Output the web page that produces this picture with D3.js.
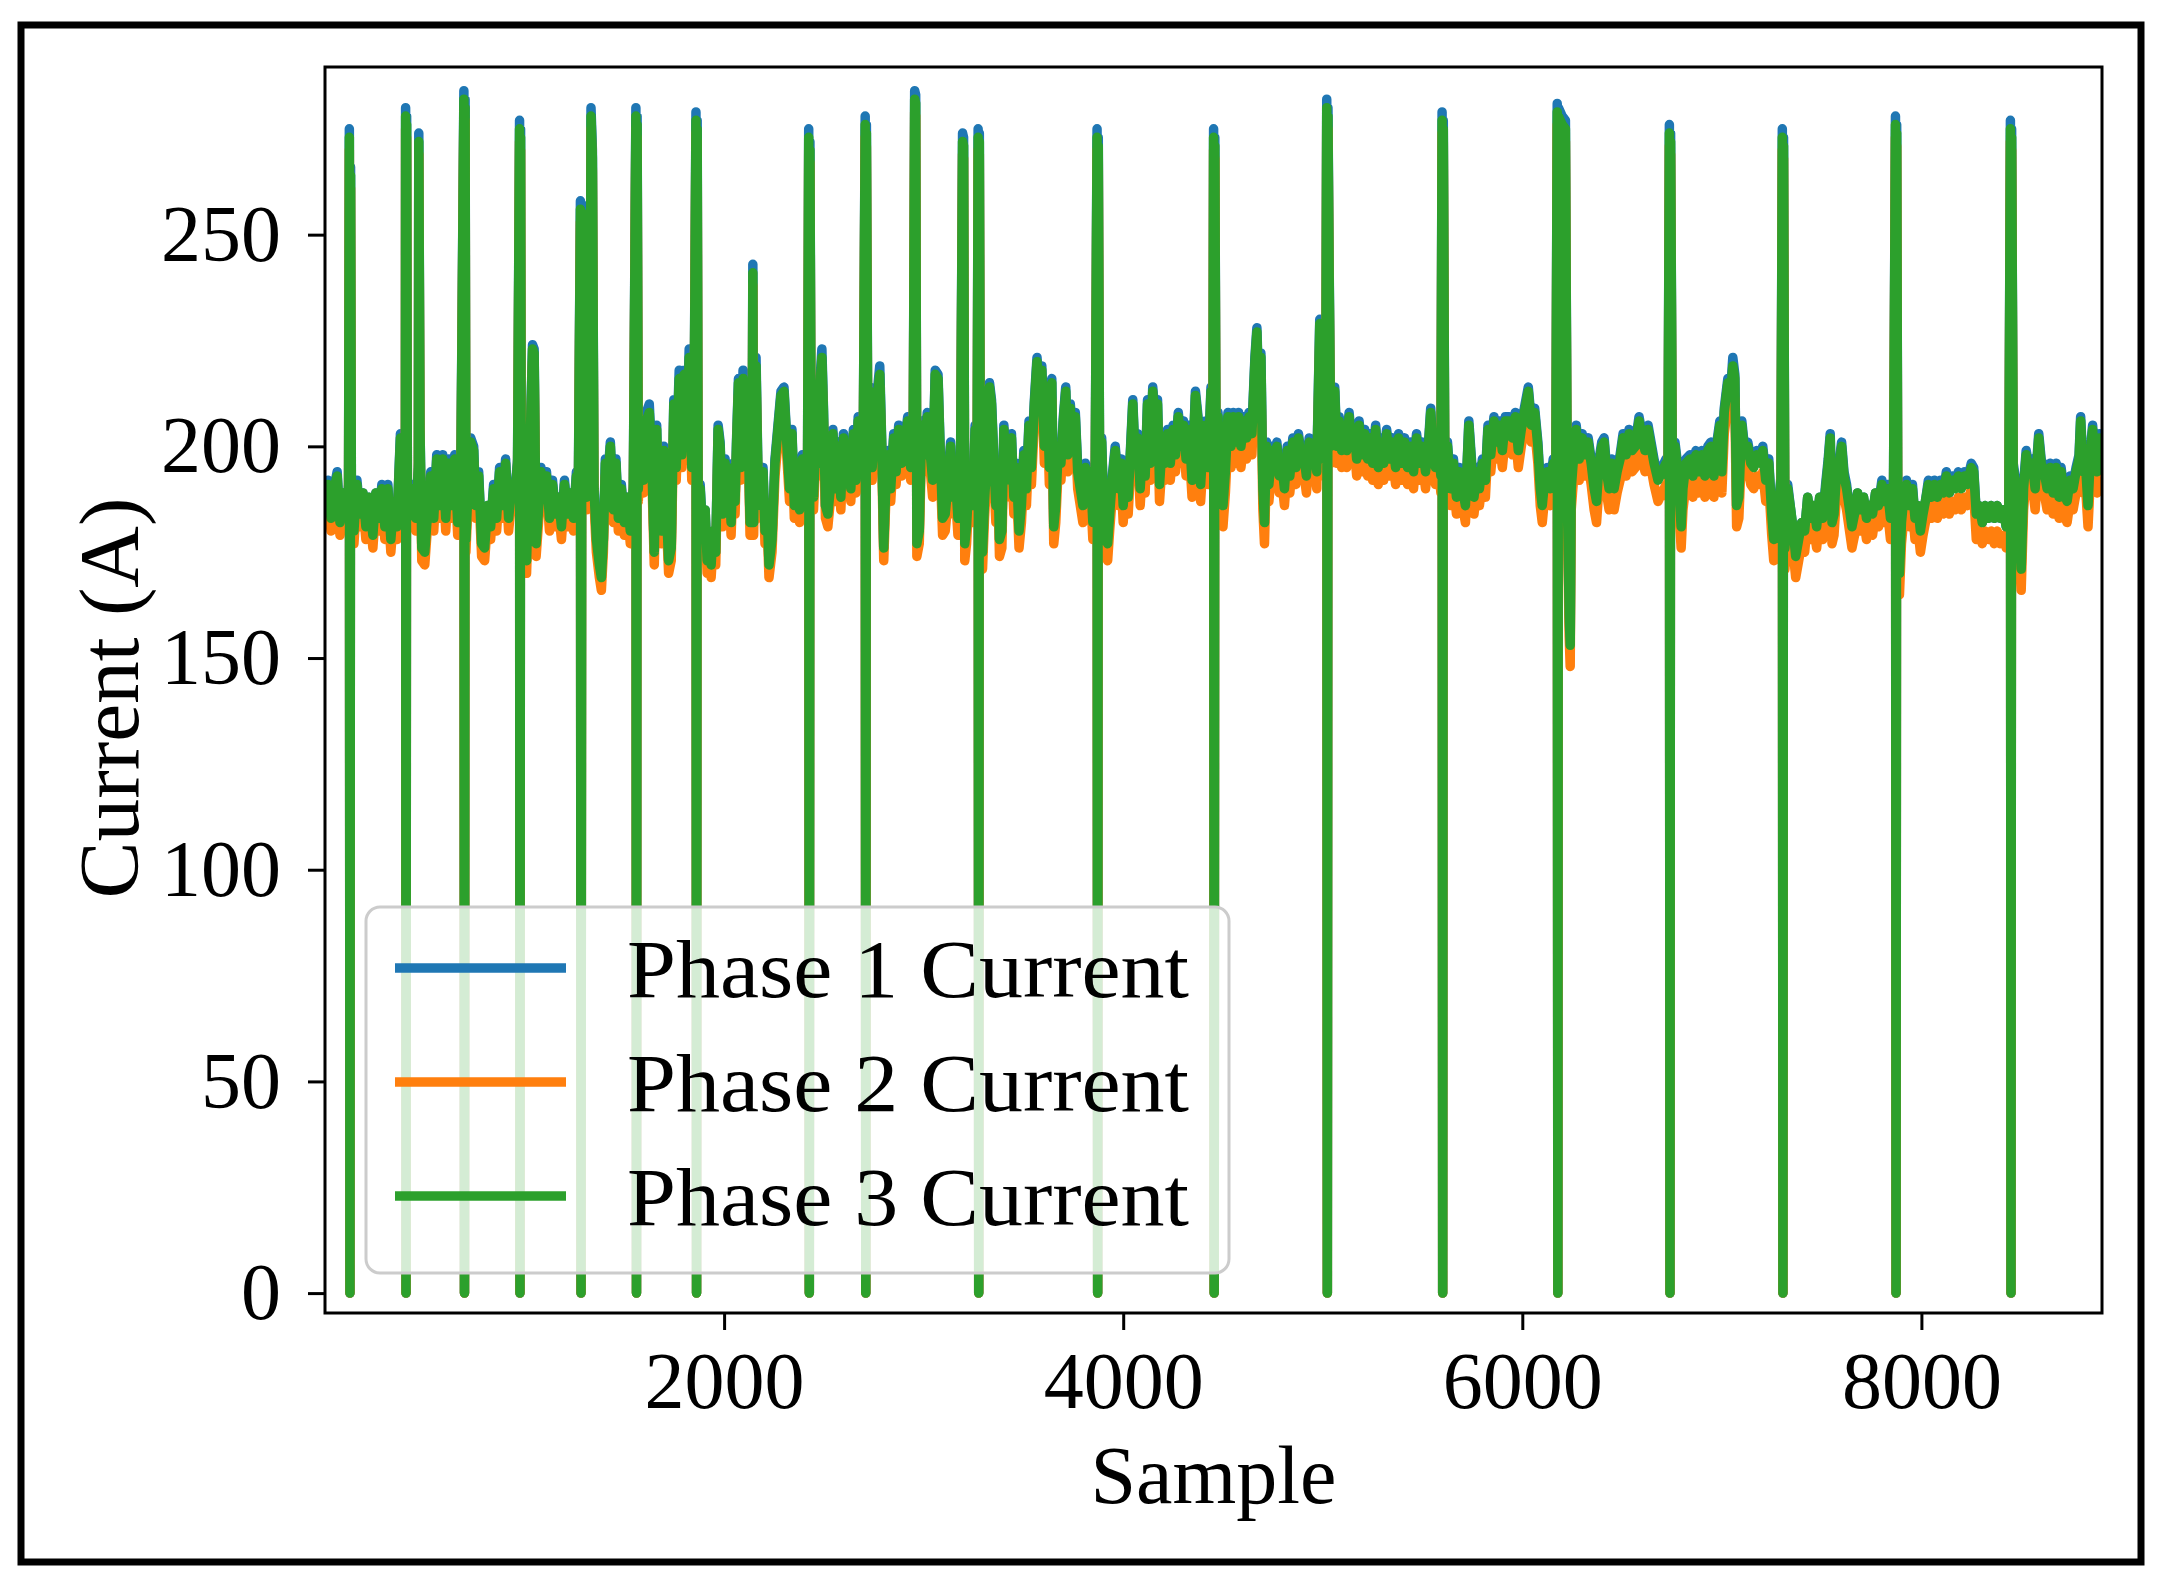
<!DOCTYPE html>
<html>
<head>
<meta charset="utf-8">
<script src="https://cdn.jsdelivr.net/npm/d3@7"></script>
<style>
  body { margin: 0; background: #fff; }
  text { font-family: "Liberation Serif", "Times New Roman", serif; fill: #000; }
</style>
</head>
<body>
<div id="chart"></div>
<script>

// Sample index of each reading (one line per stretch between spikes)
const samples = [
  0,15,30,45,61,75,90,105,118,122,125,128,132,145,160,175,190,205,220,240,255,270,285,300,315,330,345,360,378,392,403,404,406,409,413,
  425,440,455,468,470,476,485,500,515,530,545,560,575,590,605,620,635,650,665,680,696,699,702,706,
  715,730,745,755,770,785,800,815,830,845,860,875,890,905,920,935,950,965,975,977,980,984,
  995,1010,1025,1040,1048,1058,1070,1082,1095,1110,1125,1140,1155,1170,1185,1200,1215,1230,1245,1260,1270,1280,1283,1287,1295,1305,1312,1320,1328,1333,1340,1348,
  1360,1375,1385,1395,1405,1418,1430,1445,1458,1470,1485,1500,1515,1530,1545,1558,1561,1564,1570,
  1580,1595,1610,1625,1638,1650,1662,1672,1685,1697,1710,1722,1735,1748,1760,1775,1788,1800,1812,1825,1838,1850,1859,1862,1865,1870,
  1880,1892,1905,1915,1925,1935,1945,1958,1970,1980,1992,2005,2015,2025,2035,2045,2055,2062,2072,2082,2095,2105,2118,2130,2140,2144,2148,
  2160,2170,2182,2195,2205,2215,2225,2240,2255,2270,2285,2300,2315,2328,2340,2352,2365,2378,2392,2405,2418,2424,2427,2430,2436,
  2448,2460,2470,2480,2490,2498,2508,2520,2532,2545,2558,2570,2585,2598,2610,2622,2635,2648,2660,2672,2685,2698,2707,2710,2713,2720,
  2730,2742,2755,2768,2780,2790,2800,2810,2822,2835,2850,2862,2875,2890,2905,2920,2935,2948,2955,2960,2966,2978,
  2990,3005,3018,3030,3045,3058,3072,3082,3095,3108,3120,3135,3148,3160,3172,3185,3195,3200,3206,3215,3230,3245,3258,3268,3273,3276,3279,3285,
  3295,3305,3318,3330,3340,3352,3362,3372,3380,3392,3402,3415,3428,3440,3452,3465,3478,3490,3502,3515,3528,3540,3555,3568,3580,3592,3605,3618,3630,3642,3652,
  3662,3675,3688,3700,3712,3722,3735,3748,3760,3772,3785,3798,3810,3822,3835,3848,3860,3869,3872,3875,3882,
  3892,3902,3912,3922,3932,3945,3960,3975,3990,4000,4012,4025,4038,4048,4060,4072,4085,4098,4110,4122,4135,4148,
  4160,4172,4182,4195,4208,4222,4236,4250,4262,4276,4290,4302,4315,4330,4345,4362,4375,4388,4400,4412,4425,4440,4450,4453,4456,4459,4465,
  4475,4488,4500,4512,4525,4540,4552,4565,4578,4590,4605,4618,4630,4645,4660,4670,4680,4690,4700,4708,
  4718,4730,4745,4758,4770,4782,4795,4808,4822,4835,4850,4865,4878,4892,4905,4918,4932,4945,4958,4970,4985,4995,5005,5015,
  5020,5023,5026,5032,5040,5050,5060,5070,5082,5095,5108,5120,5132,5145,5158,5170,5182,5195,5210,5225,5238,5250,5265,5278,5290,
  5305,5320,5335,5350,5365,5380,5395,5410,5425,5440,5455,5470,5485,5500,5515,5530,5541,5552,5565,5580,5592,5598,5601,5604,5612,
  5625,5640,5655,5670,5685,5700,5715,5732,5745,5758,5770,5785,5800,5815,5828,5842,5858,5870,5885,5900,5915,5934,5950,5965,5980,5995,6010,6030,6045,6062,6078,6090,6100,6112,6125,6140,6155,6168,
  6175,6178,6181,6200,6216,6225,6235,6240,6245,6258,6270,6285,6300,6315,6330,6345,6360,6372,6385,6398,6410,6422,6435,6448,6460,6475,6490,6505,6520,6535,6550,6567,6585,6600,6615,6630,6645,6660,6680,6700,6720,6730,
  6737,6740,6743,6752,6765,6780,6796,6805,6820,6840,6855,6870,6885,6900,6915,6930,6945,6960,6975,6990,7000,7012,7030,7045,7055,7065,7074,7085,7100,7115,7130,7145,7160,7175,7190,7205,7220,7235,7250,7260,7272,7285,7296,
  7303,7306,7309,7316,7330,7345,7358,7370,7385,7400,7415,7430,7445,7460,7475,7490,7505,7520,7533,7543,7552,7562,7575,7590,7600,7612,7625,7640,7652,7665,7680,7695,7710,7725,7740,7755,7770,7785,7802,7815,7830,7845,7860,
  7870,7873,7876,7882,7890,7900,7912,7925,7940,7955,7968,7982,7995,8008,8020,8035,8050,8065,8080,8095,8110,8125,8140,8155,8170,8185,8200,8215,8230,8250,8262,8275,8290,8305,8320,8335,8350,8365,8380,8395,8410,8425,8438,
  8446,8449,8452,8460,8475,8490,8500,8512,8525,8540,8555,8570,8588,8600,8615,8630,8645,8660,8675,8690,8700,8715,8730,8745,8760,8775,8790,8798,8810,8822,8835,8848,8858,8868,8880,8892,8900
];

// Phase 1 current (A)
const phase1 = [
  186,192,183,190,194,182,189,184,191,275,0,266,192,180,192,184,189,181,188,179,189,183,191,181,191,178,187,181,203,186,200,280,0,278,186,
  185,191,183,196,274,205,176,175,185,194,183,198,186,198,183,197,186,198,182,191,284,0,282,178,
  188,202,200,186,194,177,176,186,181,191,183,195,186,197,183,191,188,197,277,0,275,174,
  182,173,196,224,223,177,185,195,188,194,183,192,184,188,181,192,184,189,183,194,193,258,0,252,191,239,188,257,197,280,270,191,
  178,172,169,178,197,193,201,185,197,183,191,182,188,180,191,280,0,278,191,
  201,193,208,210,197,175,205,183,180,200,186,173,176,211,196,218,199,218,201,223,196,211,279,0,277,186,
  191,180,185,173,178,172,180,175,205,201,184,197,185,194,182,196,187,201,216,196,218,199,211,182,187,243,182,
  221,193,186,195,180,186,172,178,197,205,213,214,201,191,204,186,197,185,198,186,194,275,0,272,199,
  188,202,197,215,223,209,186,184,191,204,191,201,188,203,193,201,191,204,193,207,197,206,278,0,276,201,
  214,196,208,213,219,201,176,191,199,191,203,195,205,197,201,207,196,206,284,283,177,180,
  206,199,208,201,193,218,217,201,183,184,191,201,188,193,183,197,274,273,177,181,196,186,205,196,275,0,274,176,
  175,188,199,215,211,197,186,196,178,180,205,193,201,203,188,196,180,186,199,191,206,196,211,221,213,219,201,215,196,216,181,
  186,201,197,207,214,199,210,201,208,195,191,186,196,187,195,182,197,275,0,273,191,
  202,185,178,177,184,193,200,191,197,186,196,188,201,211,197,203,191,201,194,211,197,214,
  207,211,192,201,197,204,197,205,199,208,201,206,198,205,193,213,207,192,201,206,196,214,206,275,0,273,201,
  208,191,186,195,208,201,208,202,208,201,207,203,208,204,221,228,211,222,191,182,
  201,192,200,197,201,194,197,190,200,194,202,196,203,198,199,194,202,197,200,195,230,216,198,209,
  282,0,280,243,201,211,214,201,207,200,206,200,208,201,205,198,206,199,204,198,203,197,205,196,202,
  197,204,198,202,196,203,197,202,196,201,195,203,197,201,195,201,209,199,196,201,194,279,0,277,191,
  201,191,197,188,195,191,186,206,197,188,195,191,197,193,205,199,207,202,206,200,207,207,203,208,200,205,209,214,206,209,201,191,186,193,195,191,197,194,
  281,0,280,278,277,191,160,153,191,199,205,198,203,199,202,197,191,187,197,201,202,195,191,197,191,195,198,203,199,204,200,201,207,203,200,205,201,197,193,195,197,194,
  276,0,274,194,201,195,181,191,197,198,194,199,195,199,194,200,201,194,201,206,195,209,216,214,221,217,186,188,206,199,201,197,196,199,197,200,193,197,184,178,183,186,193,
  275,0,273,176,191,185,180,174,178,182,180,188,183,186,181,188,183,191,197,203,182,184,195,197,201,194,191,185,181,184,189,185,188,183,186,184,189,186,192,187,191,183,188,
  278,0,276,176,170,182,188,192,186,191,183,186,180,184,187,192,188,192,188,192,189,194,189,193,191,194,191,194,192,196,195,184,186,182,186,183,186,183,186,183,185,181,186,
  277,0,275,196,191,182,171,191,199,195,197,191,203,197,195,191,196,189,196,188,195,189,187,193,191,195,198,207,195,197,186,200,205,197,195,203,199
];

// Phase 2 current (A)
const phase2 = [
  183,188,180,187,190,179,186,181,187,270,0,261,188,177,188,181,186,178,185,176,186,180,187,178,187,175,184,178,199,183,196,275,0,273,183,
  182,187,180,192,269,201,173,172,182,190,180,194,183,194,180,193,183,194,179,187,279,0,277,175,
  185,198,196,183,190,174,173,183,178,187,180,191,183,193,180,187,185,193,272,0,270,171,
  179,170,192,220,219,174,182,191,185,190,180,188,181,185,178,188,181,186,180,190,189,253,0,247,187,235,185,252,193,275,265,187,
  175,169,166,175,193,189,197,182,193,180,187,179,185,177,187,275,0,273,187,
  197,189,203,205,193,172,201,180,177,196,183,170,173,207,192,213,195,214,197,218,192,207,274,0,272,183,
  187,177,182,170,175,169,177,172,201,197,181,193,182,190,179,192,184,197,212,192,213,195,207,179,184,238,179,
  216,189,183,191,177,183,169,175,193,201,209,210,197,187,200,183,193,182,194,183,190,270,0,267,195,
  185,198,193,211,218,205,183,181,187,200,187,197,185,199,189,197,187,200,189,203,193,202,273,0,271,197,
  210,192,204,209,214,197,173,187,195,187,199,191,201,193,197,203,192,202,279,278,174,177,
  201,194,203,196,188,213,212,196,179,180,186,196,184,188,179,192,269,268,173,177,191,182,200,191,270,0,269,172,
  171,183,194,210,206,192,182,191,174,176,200,188,196,198,184,191,176,182,194,186,201,191,206,216,208,214,196,210,191,211,177,
  182,196,192,202,209,194,205,196,203,190,186,182,191,183,190,178,192,270,0,268,186,
  197,181,174,173,180,188,195,186,192,182,191,184,196,206,192,198,186,196,189,206,192,209,
  202,206,187,196,192,199,192,200,194,203,196,201,193,200,188,208,202,187,196,201,191,209,201,270,0,268,196,
  202,185,181,189,202,195,202,196,202,195,201,197,202,198,215,222,205,216,185,177,
  196,187,195,192,196,189,192,186,195,189,197,191,198,193,194,189,197,192,195,190,225,211,193,204,
  277,0,275,238,196,206,209,196,202,195,201,195,203,196,200,193,201,194,199,193,198,192,200,191,197,
  192,199,193,197,191,198,192,197,191,196,190,198,192,196,190,196,204,194,191,196,189,274,0,272,186,
  196,186,192,184,190,186,182,201,192,184,190,186,192,188,200,194,202,197,201,195,202,202,198,203,195,200,204,209,201,204,196,186,182,188,190,186,192,189,
  276,0,275,273,272,185,155,148,185,193,199,192,197,193,196,191,185,182,191,195,196,189,185,191,185,189,192,197,193,198,194,195,201,197,194,199,195,191,187,189,191,188,
  271,0,269,188,195,189,176,185,191,192,188,193,189,193,188,194,195,188,195,200,189,203,210,208,214,211,181,183,200,193,195,191,190,193,191,194,187,191,179,173,178,181,187,
  270,0,268,171,185,180,175,169,173,177,175,183,178,181,176,183,178,185,191,197,177,179,189,191,195,188,185,180,176,179,184,180,183,178,181,179,184,181,186,182,185,178,183,
  273,0,271,171,165,177,183,186,181,185,178,181,175,179,182,186,183,186,183,186,184,188,184,187,185,188,185,188,186,190,189,178,180,177,180,178,180,177,180,177,179,176,181,
  272,0,270,190,185,177,166,185,193,189,191,185,197,191,189,185,190,184,190,183,189,184,182,187,185,189,192,201,189,191,181,194,199,191,189,197,193
];

// Phase 3 current (A)
const phase3 = [
  186,191,183,190,193,182,189,184,190,273,0,264,191,180,191,184,189,181,188,179,189,183,190,181,190,178,187,181,202,186,199,278,0,276,186,
  185,190,183,195,272,204,176,175,185,193,183,197,186,197,183,196,186,197,182,190,282,0,280,178,
  188,201,199,186,193,177,176,186,181,190,183,194,186,196,183,190,188,196,275,0,273,174,
  182,173,195,223,222,177,185,194,188,193,183,191,184,188,181,191,184,189,183,193,192,256,0,250,190,238,188,255,196,278,268,190,
  178,172,169,178,196,192,200,185,196,183,190,182,188,180,190,278,0,276,190,
  200,192,206,208,196,175,204,183,180,199,186,173,176,210,195,216,198,217,200,221,195,210,277,0,275,186,
  190,180,185,173,178,172,180,175,204,200,184,196,185,193,182,195,187,200,215,195,216,198,210,182,187,241,182,
  219,192,186,194,180,186,172,178,196,204,212,213,200,190,203,186,196,185,197,186,193,273,0,270,198,
  188,201,196,214,221,208,186,184,190,203,190,200,188,202,192,200,190,203,192,206,196,205,276,0,274,200,
  213,195,207,212,217,200,176,190,198,190,202,194,204,196,200,206,195,205,282,281,177,180,
  205,198,207,200,192,217,216,200,183,184,190,200,188,192,183,196,272,271,177,181,195,186,204,195,273,0,272,176,
  175,187,198,214,210,196,186,195,178,180,204,192,200,202,188,195,180,186,198,190,205,195,210,220,212,218,200,214,195,215,181,
  186,200,196,206,213,198,209,200,207,194,190,186,195,187,194,182,196,273,0,271,190,
  201,185,178,177,184,192,199,190,196,186,195,188,200,210,196,202,190,200,193,210,196,213,
  206,210,191,200,196,203,196,204,198,207,200,205,197,204,192,212,206,191,200,205,195,213,205,273,0,271,200,
  207,190,186,194,207,200,207,201,207,200,206,202,207,203,220,227,210,221,190,182,
  200,191,199,196,200,193,196,190,199,193,201,195,202,197,198,193,201,196,199,194,229,215,197,208,
  280,0,278,241,200,210,213,200,206,199,205,199,207,200,204,197,205,198,203,197,202,196,204,195,201,
  196,203,197,201,195,202,196,201,195,200,194,202,196,200,194,200,208,198,195,200,193,277,0,275,190,
  200,190,196,188,194,190,186,205,196,188,194,190,196,192,204,198,206,201,205,199,206,206,202,207,199,204,208,213,205,208,200,190,186,192,194,190,196,193,
  279,0,278,276,275,190,160,153,190,198,204,197,202,198,201,196,190,187,196,200,201,194,190,196,190,194,197,202,198,203,199,200,206,202,199,204,200,196,192,194,196,193,
  274,0,272,193,200,194,181,190,196,197,193,198,194,198,193,199,200,193,200,205,194,208,215,213,219,216,186,188,205,198,200,196,195,198,196,199,192,196,184,178,183,186,192,
  273,0,271,176,190,185,180,174,178,182,180,188,183,186,181,188,183,190,196,202,182,184,194,196,200,193,190,185,181,184,189,185,188,183,186,184,189,186,191,187,190,183,188,
  276,0,274,176,170,182,188,191,186,190,183,186,180,184,187,191,188,191,188,191,189,193,189,192,190,193,190,193,191,195,194,184,186,182,186,183,186,183,186,183,185,181,186,
  275,0,273,195,190,182,171,190,198,194,196,190,202,196,194,190,195,189,195,188,194,189,187,192,190,194,197,206,194,196,186,199,204,196,194,202,198
];

const seriesNames = ["Phase 1 Current", "Phase 2 Current", "Phase 3 Current"];
const seriesColors = ["#1f77b4", "#ff7f0e", "#2ca02c"];
const xTicks = [2000, 4000, 6000, 8000];
const yTicks = [0, 50, 100, 150, 200, 250];

// page + plot box
const width = 2168;
const height = 1582;
const plot = {left: 325, right: 2102, top: 67, bottom: 1313};
const lineW = 9.5;

const svg = d3.select("#chart")
  .append("svg")
  .attr("width", width)
  .attr("height", height);

// black frame round the whole figure
svg.append("rect")
  .attr("x", 21).attr("y", 25)
  .attr("width", 2120).attr("height", 1537)
  .attr("fill", "none")
  .attr("stroke", "#000")
  .attr("stroke-width", 7);

// scales
const x = d3.scaleLinear().domain([0, 8905]).range([plot.left, plot.right]);
const y = d3.scaleLinear().domain([-4.7, 289.6]).range([plot.bottom, plot.top]);

svg.append("clipPath").attr("id", "plotclip")
  .append("rect")
  .attr("x", plot.left).attr("y", plot.top)
  .attr("width", plot.right - plot.left).attr("height", plot.bottom - plot.top);

// lines: phase 1 first, phase 3 on top
const n = Math.min(samples.length, phase1.length, phase2.length, phase3.length);
const idx = d3.range(n);
const allSeries = [phase1, phase2, phase3];

const gLines = svg.append("g").attr("clip-path", "url(#plotclip)");
allSeries.forEach((vals, k) => {
  const line = d3.line()
    .x(i => x(samples[i]))
    .y(i => y(vals[i]));
  gLines.append("path")
    .datum(idx)
    .attr("d", line)
    .attr("fill", "none")
    .attr("stroke", seriesColors[k])
    .attr("stroke-width", lineW)
    .attr("stroke-linejoin", "round")
    .attr("stroke-linecap", "butt");
});

// axes
const yAxis = svg.append("g")
  .attr("transform", `translate(${plot.left},0)`)
  .call(d3.axisLeft(y).tickValues(yTicks).tickSize(17).tickPadding(27).tickFormat(d3.format("d")));
const xAxis = svg.append("g")
  .attr("transform", `translate(0,${plot.bottom})`)
  .call(d3.axisBottom(x).tickValues(xTicks).tickSize(17).tickPadding(21).tickFormat(d3.format("d")));

[xAxis, yAxis].forEach(g => {
  g.select(".domain").remove();
  g.selectAll(".tick line").attr("stroke", "#000").attr("stroke-width", 3);
  g.selectAll(".tick text")
    .attr("font-family", '"Liberation Serif", serif')
    .attr("font-size", 80)
    .attr("fill", "#000");
});

// plot spines
svg.append("rect")
  .attr("x", plot.left).attr("y", plot.top)
  .attr("width", plot.right - plot.left).attr("height", plot.bottom - plot.top)
  .attr("fill", "none")
  .attr("stroke", "#000")
  .attr("stroke-width", 3);

// axis titles
svg.append("text")
  .attr("x", (plot.left + plot.right) / 2)
  .attr("y", 1503)
  .attr("text-anchor", "middle")
  .attr("font-size", 82)
  .text("Sample");

svg.append("text")
  .attr("transform", "translate(138,698) rotate(-90)")
  .attr("text-anchor", "middle")
  .attr("font-size", 84)
  .attr("textLength", 401)
  .attr("lengthAdjust", "spacingAndGlyphs")
  .text("Current (A)");

// legend
const legend = svg.append("g");
legend.append("rect")
  .attr("x", 366).attr("y", 907)
  .attr("width", 863).attr("height", 366)
  .attr("rx", 14).attr("ry", 14)
  .attr("fill", "#fff").attr("fill-opacity", 0.8)
  .attr("stroke", "#cccccc").attr("stroke-width", 3);

const legendRows = [968, 1082, 1196];
seriesNames.forEach((name, k) => {
  legend.append("line")
    .attr("x1", 395).attr("x2", 566)
    .attr("y1", legendRows[k]).attr("y2", legendRows[k])
    .attr("stroke", seriesColors[k])
    .attr("stroke-width", lineW);
  legend.append("text")
    .attr("x", 627)
    .attr("y", legendRows[k] + 29)
    .attr("font-size", 82)
    .attr("textLength", 562)
    .attr("lengthAdjust", "spacingAndGlyphs")
    .text(name);
});

</script>
</body>
</html>
